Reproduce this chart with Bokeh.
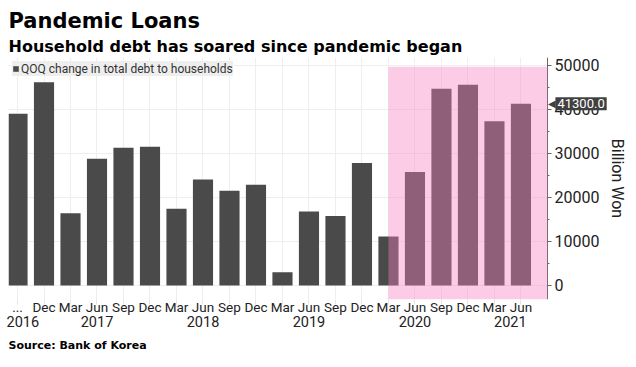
from bokeh.plotting import figure
from bokeh.models import (Range1d, LinearAxis, FixedTicker, SingleIntervalTicker, Title,
                          BoxAnnotation, Label, ColumnDataSource)
from bokeh.embed import file_html
from bokeh.resources import INLINE

# ---------------- data ----------------
months = ["...", "Dec", "Mar", "Jun", "Sep", "Dec", "Mar", "Jun", "Sep", "Dec",
          "Mar", "Jun", "Sep", "Dec", "Mar", "Jun", "Sep", "Dec", "Mar", "Jun"]
values = [39000, 46200, 16400, 28800, 31300, 31500, 17400, 24100, 21500, 22900,
          3000, 16800, 15800, 27800, 11100, 25800, 44700, 45600, 37300, 41300]
year_labels = ["2016", "2017", "2018", "2019", "2020", "2021"]
year_tick_index = [0.2, 3, 7, 11, 15, 18.6]
series_name = "QOQ change in total debt to households"
pandemic_start_index = 14          # Mar 2020
shade_top = 49700
y_tick_step = 10000

# ---------------- styles / geometry ----------------
TITLE_FONT = "DejaVu Sans"
BODY_FONT = "Roboto"
BAR = "#4a4a4a"
LEFT_BORDER = 8
PLOT_W = 624            # frame width incl. the room for the value axis

x = list(range(len(values)))
src = ColumnDataSource(dict(x=x, value=values, month=months))

x_start = -0.34
axis_x = 20.0           # where the value axis sits (data units)
x_end = 23.21
p = figure(width=LEFT_BORDER + PLOT_W, height=358,
           output_backend="svg", toolbar_location=None,
           x_range=Range1d(x_start, x_end), y_range=Range1d(-3200, 51800),
           x_axis_location=None, y_axis_location="right",
           min_border_left=LEFT_BORDER, min_border_right=0, min_border_top=57,
           min_border_bottom=0, outline_line_color=None, background_fill_color="white")

# grids
p.xgrid.ticker = FixedTicker(ticks=x)
p.xgrid.grid_line_color = "#eeeeee"
p.ygrid.ticker = SingleIntervalTicker(interval=y_tick_step)
p.ygrid.grid_line_color = "#eeeeee"
# keep the area right of the value axis clean
p.add_layout(BoxAnnotation(left=axis_x, fill_color="white", fill_alpha=1, line_color=None,
                           level="underlay"))

p.vbar(x="x", top="value", width=0.76, source=src, fill_color=BAR, line_color=None,
       legend_label=series_name)

# pandemic shading
p.add_layout(BoxAnnotation(left=pandemic_start_index, right=axis_x, top=shade_top,
                           fill_color="#f77dbe", fill_alpha=0.4, line_color=None))

# y axis (right, pinned at axis_x)
ya = p.yaxis[0]
ya.fixed_location = axis_x
ya.ticker = SingleIntervalTicker(interval=y_tick_step, num_minor_ticks=2)
ya.axis_line_color = "#666666"
ya.major_tick_line_color = "#666666"
ya.minor_tick_line_color = "#666666"
ya.major_tick_in = 0
ya.major_tick_out = 4
ya.minor_tick_in = 0
ya.minor_tick_out = 2
ya.major_label_standoff = 3
ya.major_label_text_font = BODY_FONT
ya.major_label_text_font_size = "16px"
ya.major_label_text_color = "#222222"
ya.axis_label = "Billion Won"
ya.axis_label_text_font = BODY_FONT
ya.axis_label_text_font_size = "16px"
ya.axis_label_text_font_style = "normal"
ya.axis_label_text_color = "#222222"
ya.axis_label_standoff = 6

# month axis and year axis
month_axis = LinearAxis(ticker=FixedTicker(ticks=x),
                        major_label_overrides={i: m for i, m in enumerate(months)},
                        axis_line_color=None, major_tick_line_color="#e4e4e4",
                        major_tick_in=0, major_tick_out=5, minor_tick_line_color=None,
                        major_label_standoff=-6, major_label_text_font=BODY_FONT,
                        major_label_text_font_size="13.5px", major_label_text_color="#222222")
p.add_layout(month_axis, "below")
year_axis = LinearAxis(ticker=FixedTicker(ticks=year_tick_index),
                       major_label_overrides={t: y for t, y in zip(year_tick_index, year_labels)},
                       axis_line_color=None, major_tick_line_color=None,
                       major_tick_in=0, major_tick_out=0, minor_tick_line_color=None,
                       major_label_standoff=-2, major_label_text_font=BODY_FONT,
                       major_label_text_font_size="14.5px", major_label_text_color="#222222")
p.add_layout(year_axis, "below")

# legend
lg = p.legend[0]
lg.location = "top_left"
lg.margin = 4
lg.padding = 5
lg.spacing = 0
lg.background_fill_color = "#eeeeee"
lg.background_fill_alpha = 1
lg.border_line_color = None
lg.glyph_width = 7
lg.glyph_height = 7
lg.label_standoff = 2
lg.label_height = 15
lg.label_text_font = BODY_FONT
lg.label_text_font_size = "12px"
lg.label_text_color = "#333333"

# last-value callout next to the value axis
last_val = values[-1]
p.add_layout(Label(x=axis_x, y=last_val, x_offset=1, text="\u25C0", text_font_size="10px",
                   text_color="#404040", text_baseline="middle", text_align="left"))
p.add_layout(Label(x=axis_x, y=last_val, x_offset=8, text=f"{last_val:.1f}",
                   text_font=BODY_FONT, text_font_size="13px", text_color="white",
                   text_baseline="middle", text_align="left",
                   background_fill_color="#404040", background_fill_alpha=1, padding=2))

# titles (later "above" items sit closer to the frame)
p.title.text = "Pandemic Loans"
p.title.text_font = TITLE_FONT
p.title.text_font_size = "21px"
p.title.text_font_style = "bold"
p.title.text_color = "#000000"
p.title.align = "left"
p.title.offset = 0
p.title.standoff = 0
p.add_layout(Title(text="Household debt has soared since pandemic began", text_font=TITLE_FONT,
                   text_font_size="16px", text_font_style="bold", text_color="#000000",
                   align="left", offset=0, standoff=4), "above")
p.add_layout(Title(text="Source:  Bank of Korea", text_font=TITLE_FONT, text_font_size="11px",
                   text_font_style="bold", text_color="#000000",
                   align="left", offset=0, standoff=14), "below")

open("out.html", "w").write(file_html(p, INLINE))
